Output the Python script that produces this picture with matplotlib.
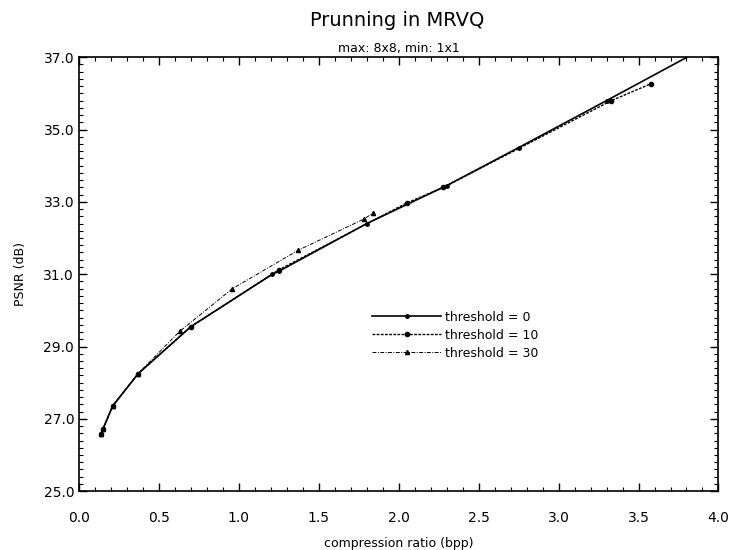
import matplotlib
matplotlib.use("Agg")
import matplotlib.pyplot as plt
import numpy as np
from matplotlib.ticker import MultipleLocator, FormatStrFormatter

# threshold = 0 (solid)
bpp_t0 = [0.14, 0.15, 0.21, 0.37, 0.70, 1.21, 1.25, 1.80, 2.30, 2.75, 3.30, 3.95]
psnr_t0 = [26.58, 26.72, 27.35, 28.25, 29.55, 31.00, 31.08, 32.40, 33.45, 34.50, 35.80, 37.35]

# threshold = 10 (dotted)
bpp_t10 = [0.14, 0.15, 0.21, 0.37, 0.70, 1.25, 2.05, 2.28, 3.33, 3.58]
psnr_t10 = [26.58, 26.72, 27.35, 28.25, 29.55, 31.12, 32.97, 33.40, 35.80, 36.27]

# threshold = 30 (dash-dot)
bpp_t30 = [0.14, 0.15, 0.21, 0.37, 0.63, 0.96, 1.37, 1.78, 1.84]
psnr_t30 = [26.58, 26.72, 27.35, 28.25, 29.42, 30.60, 31.66, 32.52, 32.69]

fig = plt.figure(figsize=(7.35, 5.5), dpi=100)
ax = fig.add_axes([0.1075, 0.107, 0.87, 0.789])

ax.plot(bpp_t0, psnr_t0, color="black", lw=1.2, ls="-", marker="o", ms=2.5,
        label="threshold = 0")
ax.plot(bpp_t10, psnr_t10, color="black", lw=1.0, ls=(0, (2, 1)), marker="o", ms=3,
        label="threshold = 10")
ax.plot(bpp_t30, psnr_t30, color="black", lw=0.7, ls=(0, (4, 1.5, 1, 1.5)), marker="^", ms=3,
        label="threshold = 30")

ax.set_xlim(0, 4.0)
ax.set_ylim(25.0, 37.0)
ax.xaxis.set_major_locator(MultipleLocator(0.5))
ax.xaxis.set_minor_locator(MultipleLocator(0.1))
ax.set_yticks(np.arange(25.0, 37.1, 2.0))
ax.yaxis.set_minor_locator(MultipleLocator(0.2))
ax.xaxis.set_major_formatter(FormatStrFormatter("%.1f"))
ax.yaxis.set_major_formatter(FormatStrFormatter("%.1f"))
ax.tick_params(which="both", direction="in", top=True, right=True, labelsize=10)
ax.tick_params(which="major", length=6, width=1)
ax.tick_params(which="minor", length=3, width=0.8)
ax.tick_params(axis="x", pad=14)
for s in ax.spines.values():
    s.set_linewidth(1.2)

ax.set_xlabel("compression ratio (bpp)", fontsize=9, labelpad=9)
ax.set_ylabel("PSNR (dB)", fontsize=9, labelpad=12)
fig.text(0.54, 0.963, "Prunning in MRVQ", ha="center", va="center", fontsize=14)
ax.set_title("max: 8x8, min: 1x1", fontsize=9, pad=4)

ax.legend(loc="upper left", bbox_to_anchor=(0.441, 0.442), frameon=False, fontsize=9,
          handlelength=5.5, handletextpad=0.3, labelspacing=0.4)

fig.savefig("out.png", dpi=100)
